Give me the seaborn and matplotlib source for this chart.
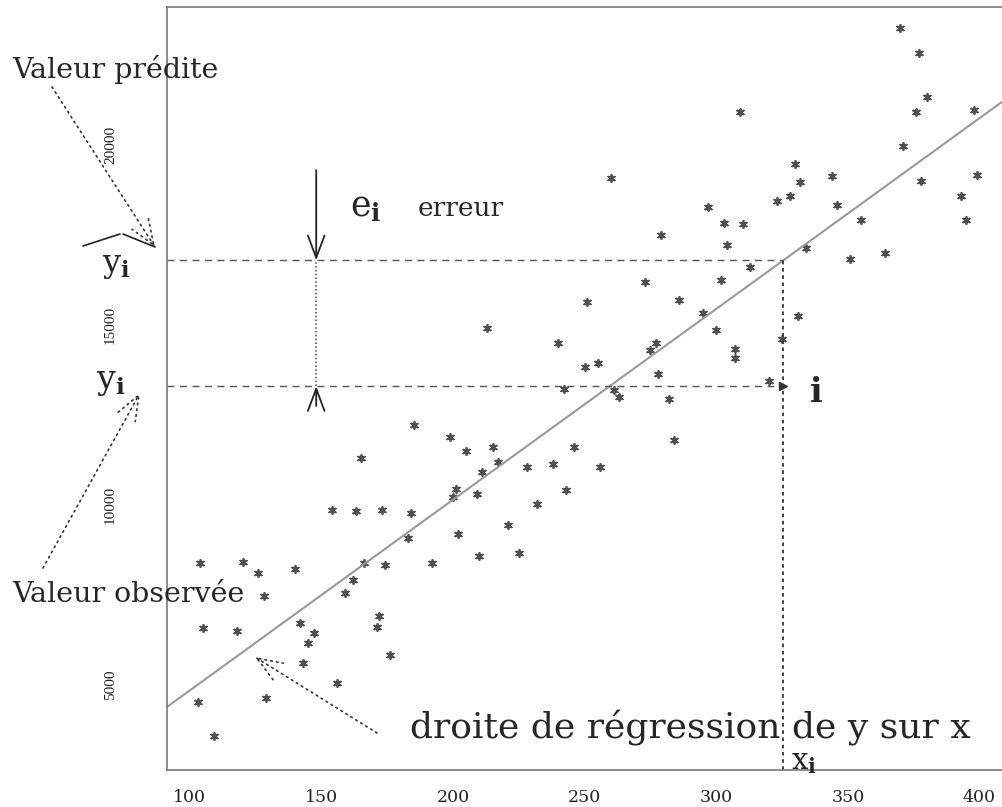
import numpy as np
import matplotlib
matplotlib.use('Agg')
import matplotlib.pyplot as plt
from matplotlib.lines import Line2D
import seaborn as sns

# -------------------------
# Data
# -------------------------
x_vals = [370, 377, 380, 376, 309, 398, 371, 330, 260, 344,
          332, 378, 399, 323, 328, 393, 346, 297, 303, 310,
          355, 395, 279, 304, 334, 351, 364, 313, 273, 302,
          251, 286, 295, 331, 240, 300, 277, 275, 325, 307,
          307, 250, 255, 278, 320, 242, 261, 263, 282,
          228, 238, 256, 246, 243, 232, 221, 225, 284,
          185, 199, 205, 215, 217, 165, 211, 201, 200, 209,
          154, 163, 173, 184, 202, 183, 210, 192, 166, 174,
          162, 159, 104, 120, 126, 140, 128, 105, 118, 142,
          147, 145, 172, 171, 176, 143, 156, 103, 129, 109,
          213]
y_vals = [23240, 22550, 21340, 20910, 20910, 20970, 19970, 19480, 19080, 19150,
          18980, 19010, 19170, 18450, 18590, 18590, 18330, 18280, 17830, 17790,
          17910, 17910, 17490, 17210, 17140, 16840, 17010, 16620, 16190, 16250,
          15640, 15680, 15330, 15240, 14500, 14870, 14500, 14310, 14600, 14330,
          14080, 13830, 13930, 13650, 13450, 13220, 13180, 13000, 12940,
          11060, 11130, 11060, 11620, 10420, 10020, 9440, 8660, 11800,
          12220, 11900, 11500, 11620, 11200, 11310, 10920, 10450, 10230, 10300,
          9860, 9840, 9860, 9790, 9190, 9080, 8590, 8390, 8380, 8330,
          7930, 7550, 8380, 8430, 8110, 8210, 7470, 6590, 6510, 6720,
          6440, 6160, 6930, 6600, 5840, 5610, 5060, 4520, 4630, 3580,
          14910]

x_ticks = [100, 150, 200, 250, 300, 350, 400]
y_ticks = [5000, 10000, 15000, 20000]

# regression line as drawn in the picture
line_intercept = -444
line_slope = 52.96

x_i = 325.5          # abscisse of observation i
y_obs = 13300        # observed value y_i
x_err = 148          # where the error e_i is drawn
err_top = 19300
err_bottom = 12750

y_hat = line_intercept + line_slope * x_i

# -------------------------
# Figure
# -------------------------
sns.set_style('white')
plt.rcParams['font.family'] = ['DejaVu Serif']
plt.rcParams['mathtext.fontset'] = 'custom'
plt.rcParams['mathtext.rm'] = 'DejaVu Serif'
plt.rcParams['mathtext.it'] = 'DejaVu Serif'
plt.rcParams['mathtext.bf'] = 'DejaVu Serif:bold'

W, H = 1002, 807
fig = plt.figure(figsize=(W / 100, H / 100), dpi=100)
ax = fig.add_axes([167 / W, 37 / H, (W - 167) / W, 763 / H])


def fpx(px, py):
    return (px / W, 1 - py / H)


ax.set_xlim(91.3, 408.6)
ax.set_ylim(2640, 23830)

sns.scatterplot(x=x_vals, y=y_vals, ax=ax, marker=(6, 2, 0), s=28,
                color='#505050', edgecolor='#505050', linewidth=1.3)
ax.axline((0, line_intercept), slope=line_slope, color='#9a9a9a', lw=1.5)

ax.set_xticks(x_ticks)
ax.set_yticks(y_ticks)
ax.set_xticklabels([str(t) for t in x_ticks], fontsize=12.5, color='#222')
ax.set_yticklabels([str(t) for t in y_ticks], fontsize=11, rotation=90,
                   va='center', family='Liberation Serif', color='#222')
ax.tick_params(axis='x', length=8, width=1, color='#666', pad=6)
ax.tick_params(axis='y', length=12, width=1, color='#666', pad=24)
ax.spines['right'].set_visible(False)
for s in ['left', 'bottom', 'top']:
    ax.spines[s].set_color('#777')
    ax.spines[s].set_linewidth(1.2)
ax.set_xlabel('')
ax.set_ylabel('')

# dashed guides for y_hat and y_obs
x_left = ax.get_xlim()[0]
ax.hlines(y_hat, x_left, x_i, colors='#555', linestyles=(0, (5, 4)), lw=1)
ax.hlines(y_obs, x_left, x_i, colors='#555', linestyles=(0, (5, 4)), lw=1)
ax.plot(x_i, y_obs, marker='>', ms=6, color='#333')
ax.vlines(x_i, ax.get_ylim()[0], y_hat, colors='#333', linestyles=(0, (2, 2)), lw=1.3)

# error e_i
ax.annotate('', xy=(x_err, y_hat), xytext=(x_err, err_top),
            arrowprops=dict(arrowstyle='->,head_length=0.8,head_width=0.3',
                            color='#222', lw=1.3, mutation_scale=20,
                            shrinkA=0, shrinkB=0))
ax.annotate('', xy=(x_err, y_obs), xytext=(x_err, err_bottom),
            arrowprops=dict(arrowstyle='->,head_length=0.8,head_width=0.3',
                            color='#222', lw=1.3, mutation_scale=20,
                            shrinkA=0, shrinkB=0))
ax.vlines(x_err, y_obs, y_hat, colors='#444', linestyles=(0, (1, 1.5)), lw=1.1)

# -------------------------
# Labels
# -------------------------
fig.text(*fpx(350, 216), r'$\mathrm{e}_{\mathbf{i}}$', fontsize=25, va='baseline')
fig.text(*fpx(418, 216), 'erreur', fontsize=19, va='baseline')
fig.text(*fpx(810, 402), 'i', fontsize=24, fontweight='bold', va='baseline')
fig.text(*fpx(791, 769), r'$\mathrm{x}_{\mathbf{i}}$', fontsize=21, va='baseline')
fig.text(*fpx(102, 272), r'$\mathrm{y}_{\mathbf{i}}$', fontsize=23, va='baseline')
fig.text(*fpx(96, 389), r'$\mathrm{y}_{\mathbf{i}}$', fontsize=24, va='baseline')
fig.add_artist(Line2D([83 / W, 120 / W], [1 - 246 / H, 1 - 234 / H], color='#222', lw=1.2))
fig.add_artist(Line2D([123 / W, 155 / W], [1 - 234 / H, 1 - 247 / H], color='#222', lw=1.2))

fig.text(*fpx(12, 78), 'Valeur prédite', fontsize=20.5, va='baseline')
fig.text(*fpx(12, 602), 'Valeur observée', fontsize=20.5, va='baseline')
fig.text(*fpx(410, 739), 'droite de régression de y sur x', fontsize=26, va='baseline')

dotted = dict(arrowstyle='->,head_length=0.9,head_width=0.35', color='#333',
              lw=1.2, linestyle=(0, (1, 2.5)), mutation_scale=20, shrinkA=0, shrinkB=0)
ax.annotate('', xy=fpx(155, 247), xycoords='figure fraction',
            xytext=fpx(52, 87), textcoords='figure fraction', arrowprops=dotted)
ax.annotate('', xy=fpx(140, 393), xycoords='figure fraction',
            xytext=fpx(43, 568), textcoords='figure fraction', arrowprops=dotted)
ax.annotate('', xy=fpx(255, 657), xycoords='figure fraction',
            xytext=fpx(377, 733), textcoords='figure fraction', arrowprops=dotted)

fig.savefig('out.png', dpi=100)
